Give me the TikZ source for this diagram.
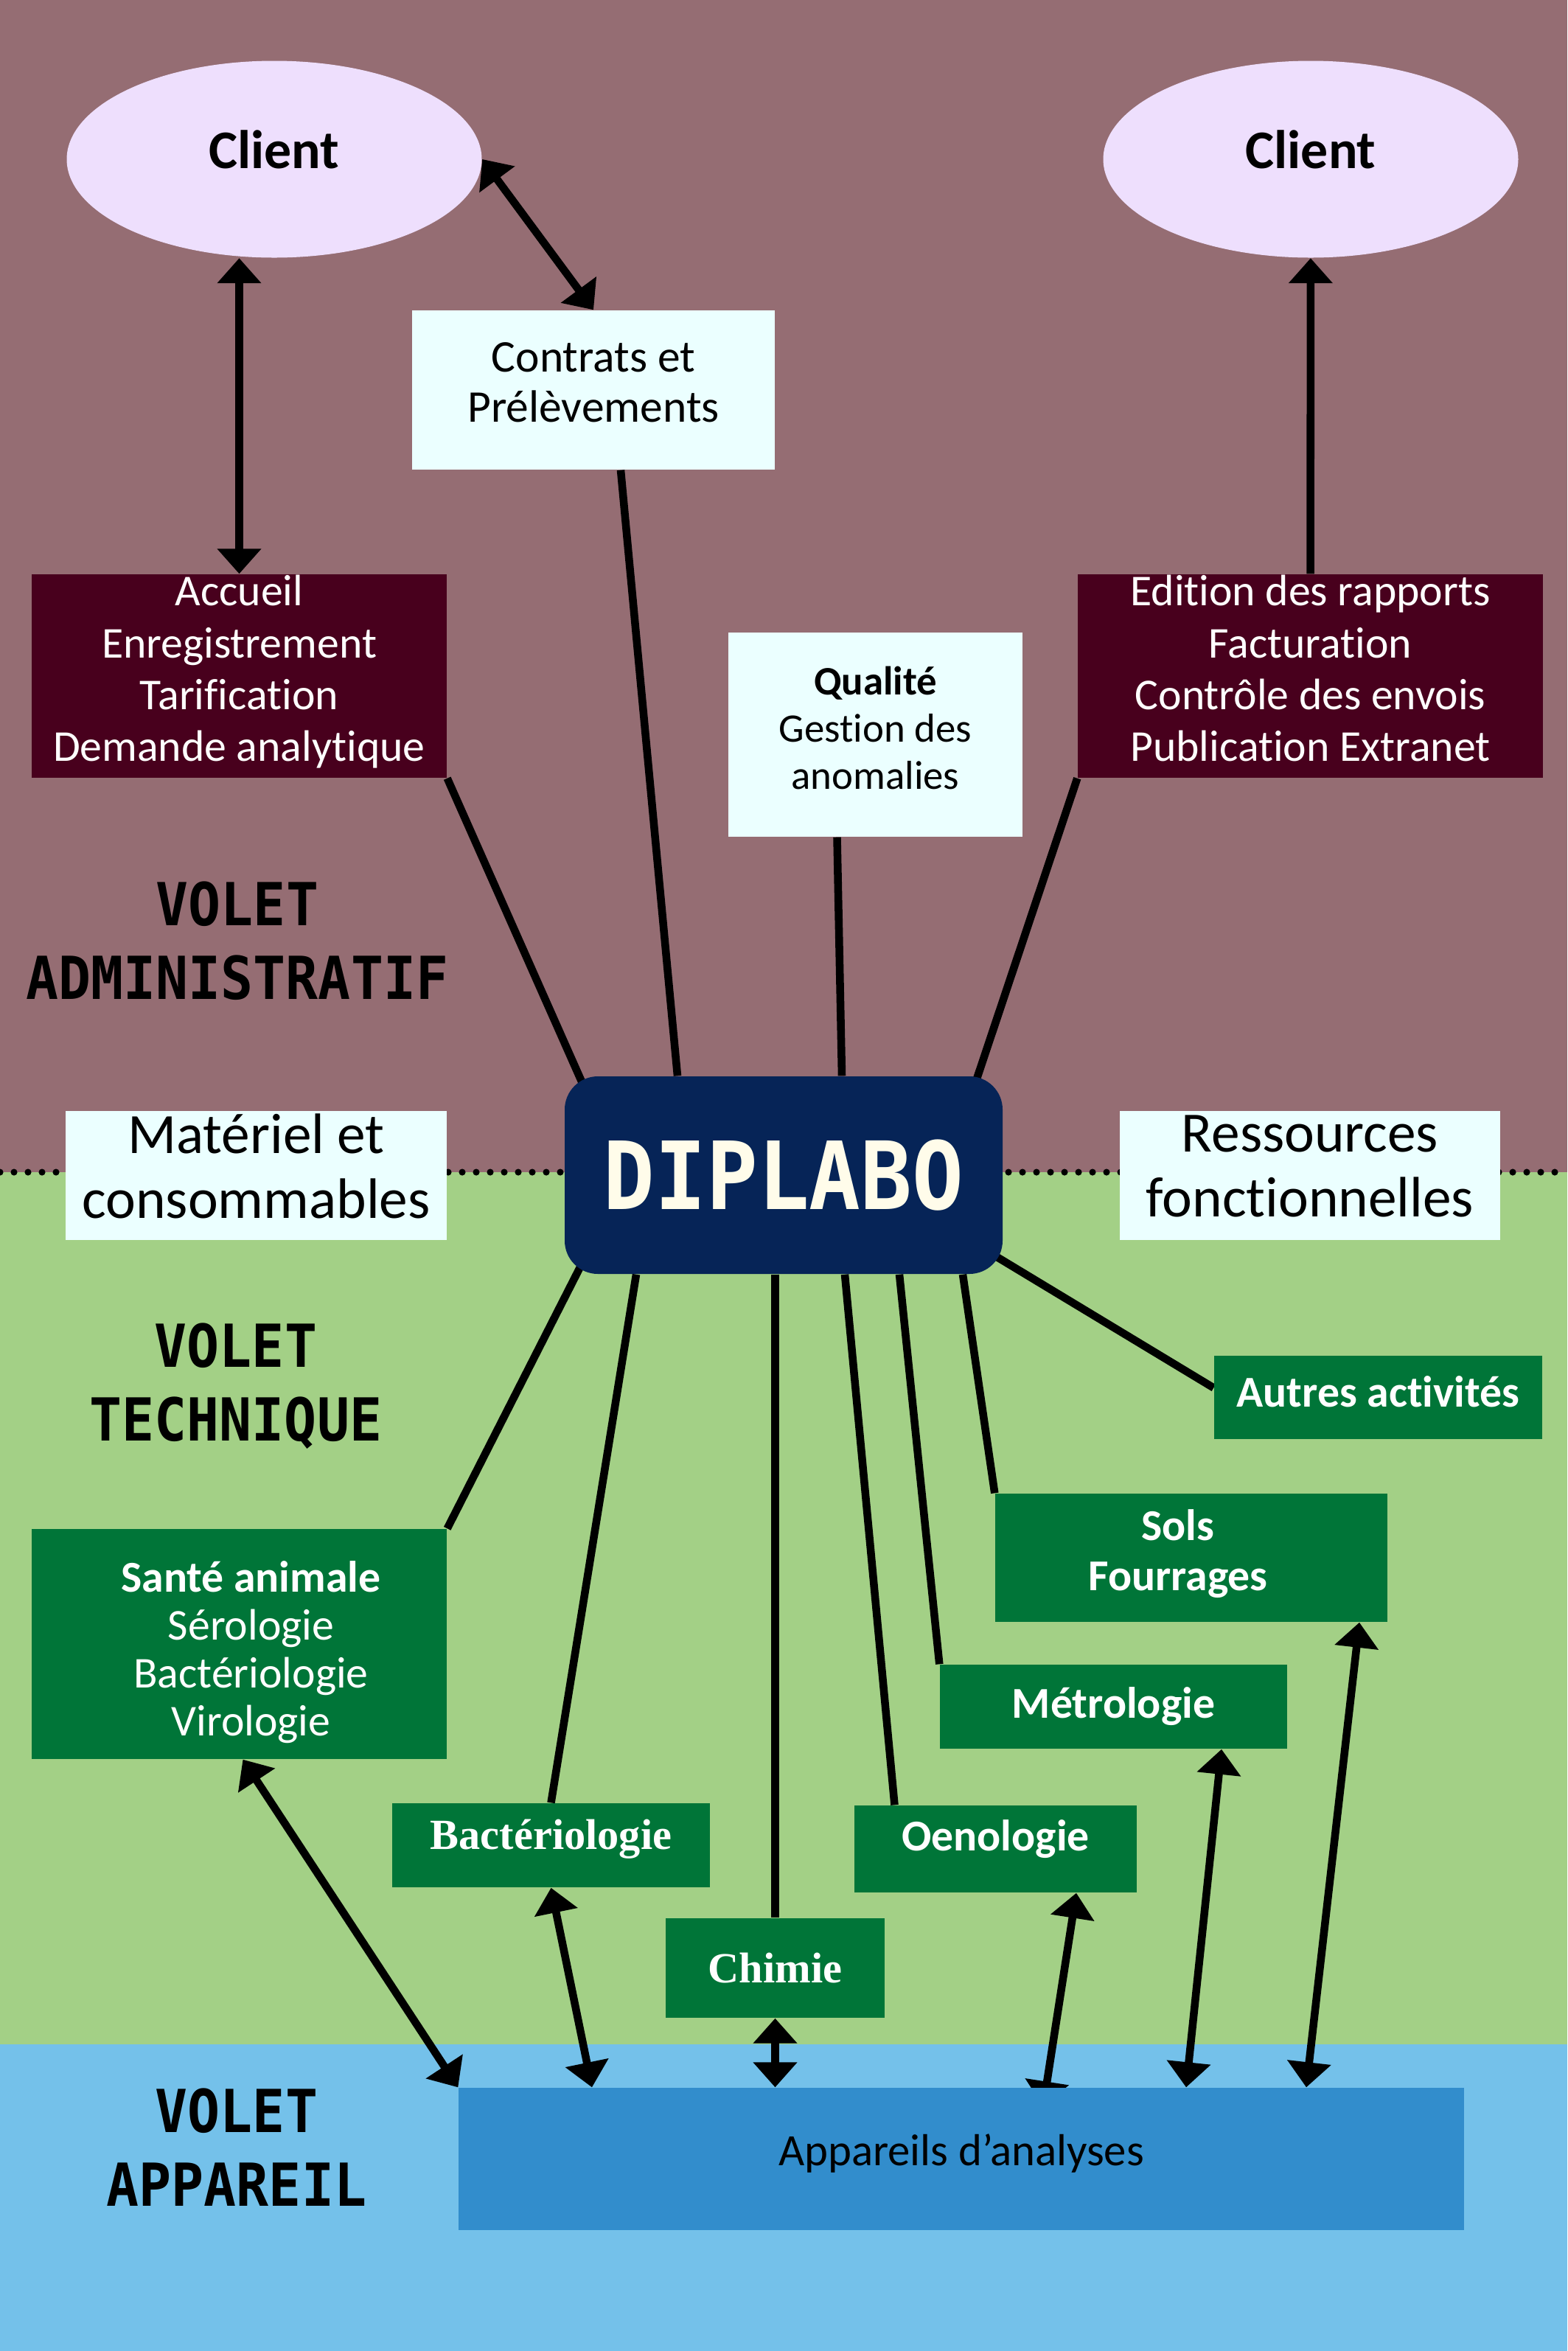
\documentclass[tikz,border=0pt]{standalone}
\usepackage{fontspec}
\usepackage{graphicx}
\setmainfont{Carlito}[Ligatures=CommonOff]
\newfontfamily\monofont{DejaVu Sans Mono}
\newfontfamily\timesfont{Liberation Serif}
\usetikzlibrary{shapes.geometric}
\usetikzlibrary{arrows.meta}
\usetikzlibrary{backgrounds}

\definecolor{mauvebg}{HTML}{956D73}
\definecolor{greenbg}{HTML}{A3D086}
\definecolor{bluebg}{HTML}{74C1EA}
\definecolor{clientfill}{HTML}{EEDFFD}
\definecolor{palefill}{HTML}{EBFFFF}
\definecolor{darkred}{HTML}{48001D}
\definecolor{navy}{HTML}{062457}
\definecolor{cream}{HTML}{FFFCEA}
\definecolor{darkgreen}{HTML}{007538}
\definecolor{appblue}{HTML}{328DCC}

\newcommand{\setsize}[2]{\fontsize{#1}{#2}\selectfont}
\newcommand{\tallbox}[1]{\scalebox{1}[1.1]{#1}}

\begin{document}
\begin{tikzpicture}[x=1cm,y=-1cm,
    client/.style={ellipse,fill=clientfill,minimum width=5.63cm,minimum height=2.67cm,inner sep=0pt,
      text height=14pt,text depth=6.8pt,font=\setsize{21}{24}\bfseries},
    strutted/.style={execute at begin node=\strut,execute at end node=\strut},
    pale/.style={fill=palefill,align=center,inner sep=0pt,strutted},
    admin/.style={fill=darkred,text=white,align=center,inner sep=0pt,minimum height=2.76cm,strutted,font=\setsize{17}{20}},
    tech/.style={fill=darkgreen,text=white,align=center,inner sep=0pt,font=\setsize{17}{19.5}\bfseries},
    serifb/.style={font=\timesfont\bfseries\setsize{16.6}{19}},
    volet/.style={align=center,font=\monofont\bfseries\setsize{20.8}{28.5}},
    link/.style={line width=3pt},
    both/.style={link,{Triangle[length=0.34cm,width=0.58cm]}-{Triangle[length=0.34cm,width=0.58cm]}},
    single/.style={link,-{Triangle[length=0.34cm,width=0.58cm]}},
    dotline/.style={line width=2.6pt,line cap=round,dash pattern=on 0pt off 0.19cm}]

  \useasboundingbox (0,0) rectangle (21.26,31.89);
  \begin{scope}[on background layer]
    \fill[mauvebg] (0,0) rectangle (21.26,15.9);
    \fill[greenbg] (0,15.9) rectangle (21.26,27.73);
    \fill[bluebg] (0,27.73) rectangle (21.26,31.89);
    \draw[dotline] (0,15.9) -- (21.26,15.9);
  \end{scope}

  % volet administratif
  \node[client] (cl) at (3.72,2.16) {Client};
  \node[client] (cr) at (17.78,2.16) {Client};
  \node[pale,minimum width=4.92cm,minimum height=2.16cm,font=\setsize{17.5}{19.3}] (cont) at (8.05,5.29) {Contrats et\\Prélèvements};
  \node[admin,minimum width=5.63cm] (acc) at (3.245,9.17) {Accueil\\Enregistrement\\Tarification\\Demande analytique};
  \node[admin,minimum width=6.31cm] (edi) at (17.775,9.17) {Edition des rapports\\Facturation\\Contrôle des envois\\Publication Extranet};
  \node[pale,minimum width=3.99cm,minimum height=2.77cm,font=\setsize{15.6}{18.2}] (qual) at (11.875,9.965) {\textbf{Qualité}\\Gestion des\\anomalies};
  \node[volet] (vadm) at (3.22,12.76) {\tallbox{VOLET}\\\tallbox{ADMINISTRATIF}};

  \node[fill=navy,rounded corners=0.45cm,minimum width=5.94cm,minimum height=2.68cm,text=cream,font=\monofont\bfseries\setsize{33}{33}] (dip) at (10.63,15.94) {\tallbox{DIPLABO}};
  \node[pale,minimum width=5.17cm,minimum height=1.75cm,font=\setsize{22}{25}] (mat) at (3.475,15.945) {Matériel et\\consommables};
  \node[pale,minimum width=5.16cm,minimum height=1.75cm,font=\setsize{22}{25}] (res) at (17.77,15.945) {Ressources\\fonctionnelles};

  % volet technique
  \node[volet] (vtech) at (3.2,18.8) {\tallbox{VOLET}\\\tallbox{TECHNIQUE}};
  \node[tech,minimum width=4.45cm,minimum height=1.13cm,text height=12pt,text depth=4.6pt] (aut) at (18.695,18.955) {Autres activités};
  \node[tech,strutted,minimum width=5.32cm,minimum height=1.74cm] (sols) at (16.16,21.13) {Sols\hspace*{0.36cm}\\Fourrages\hspace*{0.36cm}};
  \node[tech,minimum width=4.71cm,minimum height=1.14cm] (met) at (15.105,23.15) {Métrologie};
  \node[tech,strutted,minimum width=5.63cm,minimum height=3.12cm,font=\setsize{17}{18.5}] (sant) at (3.245,22.30)
    {\rule{0pt}{21pt}\hspace*{0.32cm}\textbf{Santé animale}\\\hspace*{0.32cm}Sérologie\\\hspace*{0.32cm}Bactériologie\\\hspace*{0.32cm}Virologie};
  \node[tech,serifb,minimum width=4.31cm,minimum height=1.14cm,text height=11.3pt,text depth=8.2pt] (bact) at (7.475,25.03) {Bactériologie};
  \node[tech,minimum width=3.83cm,minimum height=1.18cm,text height=12pt,text depth=10.4pt] (oeno) at (13.505,25.08) {Oenologie};
  \node[tech,serifb,minimum width=2.97cm,minimum height=1.35cm] (chim) at (10.515,26.695) {Chimie};

  % volet appareil
  \node[volet] (vapp) at (3.21,29.13) {\tallbox{VOLET}\\\tallbox{APPAREIL}};
  \node[fill=appblue,minimum width=13.64cm,minimum height=1.93cm,text height=12.1pt,text depth=6.9pt,font=\setsize{17.3}{20}] (app) at (13.04,29.285) {Appareils d’analyses};

  \begin{scope}[on background layer]
    \draw[both] (acc.north) -- (acc.north |- cl.south);
    \draw[both] (cl.east) -- (cont.north);
    \draw[single] (edi) -- (cr);
    \draw[link] ([shift={(0.37,0)}]cont.south) -- ([shift={(-1.44,0)}]dip.north);
    \draw[link] (acc.south east) -- ([shift={(-2.73,0.1)}]dip.north);
    \draw[link] ([shift={(-0.52,0)}]qual.south) -- ([shift={(0.79,0)}]dip.north);
    \draw[link] (edi.south west) -- ([shift={(2.6,0.1)}]dip.north);
    \draw[link] ([shift={(-2.75,-0.12)}]dip.south) -- (sant.north east);
    \draw[link] ([shift={(-2.0,0)}]dip.south) -- (bact.north);
    \draw[link] (chim.north |- dip.south) -- (chim.north);
    \draw[link] ([shift={(0.83,0)}]dip.south) -- ([shift={(-1.37,0)}]oeno.north);
    \draw[link] ([shift={(1.57,0)}]dip.south) -- (met.north west);
    \draw[link] ([shift={(2.43,0)}]dip.south) -- (sols.north west);
    \draw[link] ([shift={(-0.1,1.1)}]dip.east) -- ([shift={(0,-0.13)}]aut.west);
    \draw[both] ([shift={(0.05,0)}]sant.south) -- (app.north west);
    \draw[both] (bact.south) -- ([shift={(-5.01,0)}]app.north);
    \draw[both] (chim.south) -- (chim.south |- app.north);
    \draw[both] ([shift={(1.11,0.26)}]app.north) -- ([shift={(1.095,0)}]oeno.south);
    \draw[both] ([shift={(1.465,0)}]met.south) -- ([shift={(3.05,0)}]app.north);
    \draw[both] ([shift={(2.28,0)}]sols.south) -- ([shift={(4.68,0)}]app.north);
  \end{scope}
\end{tikzpicture}
\end{document}
